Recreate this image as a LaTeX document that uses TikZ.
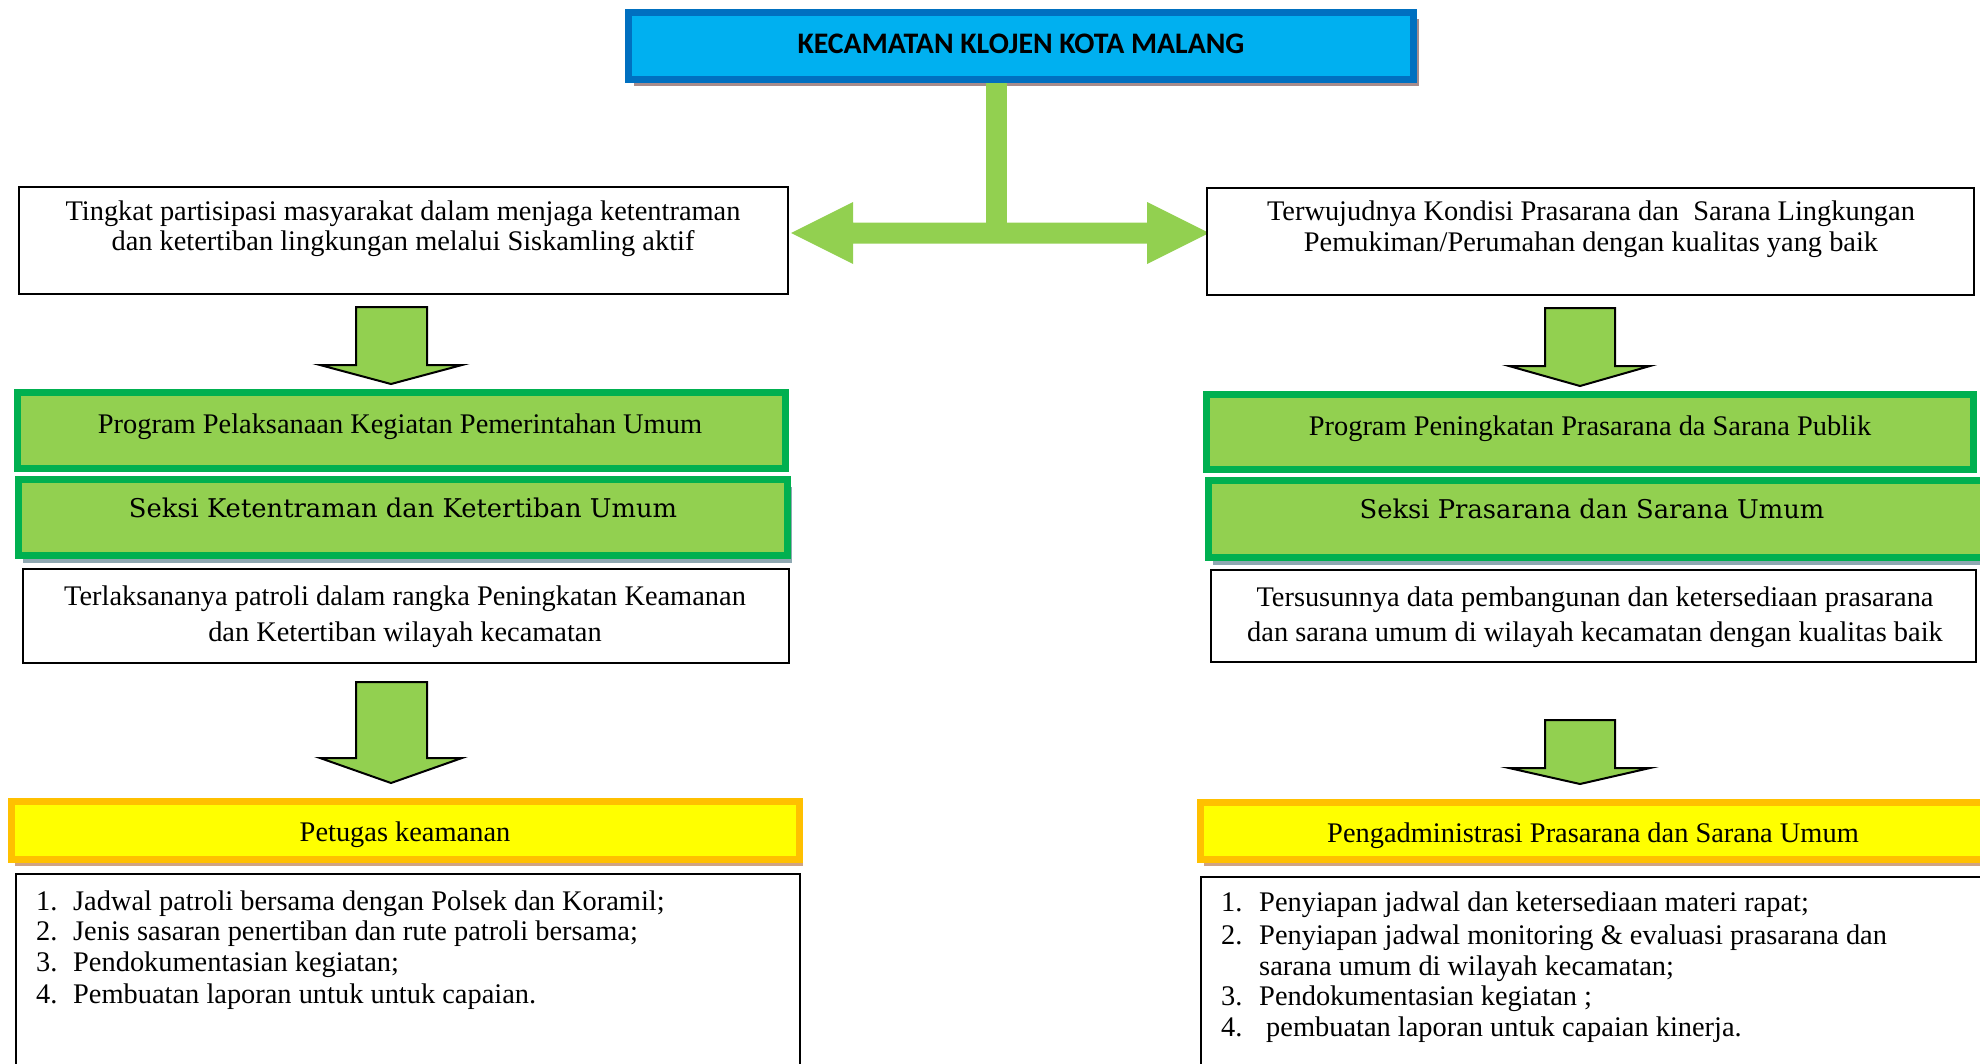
\documentclass[tikz,border=0pt]{standalone}
\usepackage{fontspec}
\setmainfont{Liberation Serif}
\newfontfamily\titlefont{Carlito}
\newfontfamily\seksifont{DejaVu Serif}
\usetikzlibrary{shadows}
\definecolor{titlefill}{HTML}{00B0F0}
\definecolor{titleborder}{HTML}{0070C0}
\definecolor{titleshadow}{HTML}{A78C8C}
\definecolor{greenfill}{HTML}{92D050}
\definecolor{greenborder}{HTML}{00B050}
\definecolor{seksishadow}{HTML}{8FA8B2}
\definecolor{yellowfill}{HTML}{FFFF00}
\definecolor{yellowborder}{HTML}{FFC000}
\definecolor{yellowshadow}{HTML}{CFA383}
\begin{document}
\begin{tikzpicture}[x=1pt,y=-1pt,
  whitebox/.style={draw=black, line width=2pt, fill=white, inner sep=0pt},
  titlebox/.style={draw=titleborder, fill=titlefill, line width=7pt, inner sep=0pt,
    drop shadow={shadow xshift=5pt, shadow yshift=-6pt, fill=titleshadow, opacity=1}},
  progbox/.style={draw=greenborder, fill=greenfill, line width=7pt, inner sep=0pt},
  seksibox/.style={draw=greenborder, fill=greenfill, line width=7pt, inner sep=0pt,
    drop shadow={shadow xshift=4pt, shadow yshift=-7pt, fill=seksishadow, opacity=1}},
  jobbox/.style={draw=yellowborder, fill=yellowfill, line width=7pt, inner sep=0pt,
    drop shadow={shadow xshift=3pt, shadow yshift=-6pt, fill=yellowshadow, opacity=1}},
  blockarrow/.style={fill=greenfill, draw=black, line width=2pt, line join=miter},
  txt/.style={inner sep=0pt, anchor=base, font=\fontsize{28.4}{30}\selectfont},
  ltxt/.style={inner sep=0pt, anchor=base west, font=\fontsize{28.4}{30}\selectfont},
  stxt/.style={inner sep=0pt, anchor=base, font=\seksifont\fontsize{25.8}{30}\selectfont},
  ttxt/.style={inner sep=0pt, anchor=base, font=\titlefont\bfseries\fontsize{29.8}{32}\selectfont}
]
\useasboundingbox (0,0) rectangle (1980,1063);
\clip (0,0) rectangle (1980,1063);

% title
\node[titlebox, minimum width=785pt, minimum height=67pt] (title) at (1021,46) {};
\node[ttxt] (titletext) at (1021,53) {KECAMATAN KLOJEN KOTA MALANG};

% stem and double arrow
\coordinate (hub) at (996.5,233);
\draw[greenfill, line width=21pt] (hub |- title.south) -- (hub);
\fill[greenfill] (791,233) -- (853,202) -- (853,222.5) -- (1147,222.5) -- (1147,202)
  -- (1209,233) -- (1147,264) -- (1147,243.5) -- (853,243.5) -- (853,264) -- cycle;

% first row boxes
\node[whitebox, minimum width=769pt, minimum height=107pt] (b1L) at (403.5,240.5) {};
\node[txt] (b1La) at (403,220) {Tingkat partisipasi masyarakat dalam menjaga ketentraman};
\node[txt] (b1Lb) at (403,250) {dan ketertiban lingkungan melalui Siskamling aktif};

\node[whitebox, minimum width=767pt, minimum height=107pt] (b1R) at (1590.5,241.5) {};
\node[txt] (b1Ra) at (1591,220) {Terwujudnya Kondisi Prasarana dan\ \ Sarana Lingkungan};
\node[txt] (b1Rb) at (1591,251) {Pemukiman/Perumahan dengan kualitas yang baik};

% down arrows 1
\draw[blockarrow] (356,307) -- (427,307) -- (427,365) -- (462,365) -- (391,384)
  -- (320,365) -- (356,365) -- cycle;
\draw[blockarrow] (1545,308) -- (1615,308) -- (1615,366) -- (1650,366) -- (1580,386)
  -- (1509,366) -- (1545,366) -- cycle;

% program boxes
\node[progbox, minimum width=768pt, minimum height=76pt] (g1L) at (401.5,430.5) {};
\node[txt] (g1Lt) at (400,433) {Program Pelaksanaan Kegiatan Pemerintahan Umum};
\node[progbox, minimum width=767pt, minimum height=75pt] (g1R) at (1590,432) {};
\node[txt] (g1Rt) at (1590,435) {Program Peningkatan Prasarana da Sarana Publik};

% seksi boxes
\node[seksibox, minimum width=769pt, minimum height=76pt] (g2L) at (403,517.5) {};
\node[stxt] (g2Lt) at (403,517) {Seksi Ketentraman dan Ketertiban Umum};
\node[seksibox, minimum width=778pt, minimum height=77pt] (g2R) at (1597.5,519) {};
\node[stxt] (g2Rt) at (1592,518) {Seksi Prasarana dan Sarana Umum};

% output boxes
\node[whitebox, minimum width=766pt, minimum height=94pt] (w3L) at (406,616) {};
\node[txt] (w3La) at (405,605) {Terlaksananya patroli dalam rangka Peningkatan Keamanan};
\node[txt] (w3Lb) at (405,641) {dan Ketertiban wilayah kecamatan};
\node[whitebox, minimum width=765pt, minimum height=92pt] (w3R) at (1593.5,616) {};
\node[txt] (w3Ra) at (1595,606) {Tersusunnya data pembangunan dan ketersediaan prasarana};
\node[txt] (w3Rb) at (1595,641) {dan sarana umum di wilayah kecamatan dengan kualitas baik};

% down arrows 2
\draw[blockarrow] (356,682) -- (427,682) -- (427,758) -- (462,758) -- (391,783)
  -- (320,758) -- (356,758) -- cycle;
\draw[blockarrow] (1545,720) -- (1615,720) -- (1615,768) -- (1650,768) -- (1580,784)
  -- (1509,768) -- (1545,768) -- cycle;

% job boxes
\node[jobbox, minimum width=788pt, minimum height=58pt] (yL) at (405.5,830.5) {};
\node[txt] (yLt) at (405,841) {Petugas keamanan};
\node[jobbox, minimum width=791pt, minimum height=57pt] (yR) at (1596,831) {};
\node[txt] (yRt) at (1593,842) {Pengadministrasi Prasarana dan Sarana Umum};

% task lists
\node[whitebox, minimum width=784pt, minimum height=215pt] (lL) at (408,981.5) {};
\node[ltxt] (lL1n) at (36,910) {1.};
\node[ltxt] (lL1) at (73,910) {Jadwal patroli bersama dengan Polsek dan Koramil;};
\node[ltxt] (lL2n) at (36,940) {2.};
\node[ltxt] (lL2) at (73,940) {Jenis sasaran penertiban dan rute patroli bersama;};
\node[ltxt] (lL3n) at (36,971) {3.};
\node[ltxt] (lL3) at (73,971) {Pendokumentasian kegiatan;};
\node[ltxt] (lL4n) at (36,1003) {4.};
\node[ltxt] (lL4) at (73,1003) {Pembuatan laporan untuk untuk capaian.};

\node[whitebox, minimum width=793pt, minimum height=212pt] (lR) at (1597.5,983) {};
\node[ltxt] (lR1n) at (1221,911) {1.};
\node[ltxt] (lR1) at (1259,911) {Penyiapan jadwal dan ketersediaan materi rapat;};
\node[ltxt] (lR2n) at (1221,944) {2.};
\node[ltxt] (lR2) at (1259,944) {Penyiapan jadwal monitoring \& evaluasi prasarana dan};
\node[ltxt] (lR2b) at (1259,975) {sarana umum di wilayah kecamatan;};
\node[ltxt] (lR3n) at (1221,1005) {3.};
\node[ltxt] (lR3) at (1259,1005) {Pendokumentasian kegiatan ;};
\node[ltxt] (lR4n) at (1221,1036) {4.};
\node[ltxt] (lR4) at (1266,1036) {pembuatan laporan untuk capaian kinerja.};
\end{tikzpicture}
\end{document}
